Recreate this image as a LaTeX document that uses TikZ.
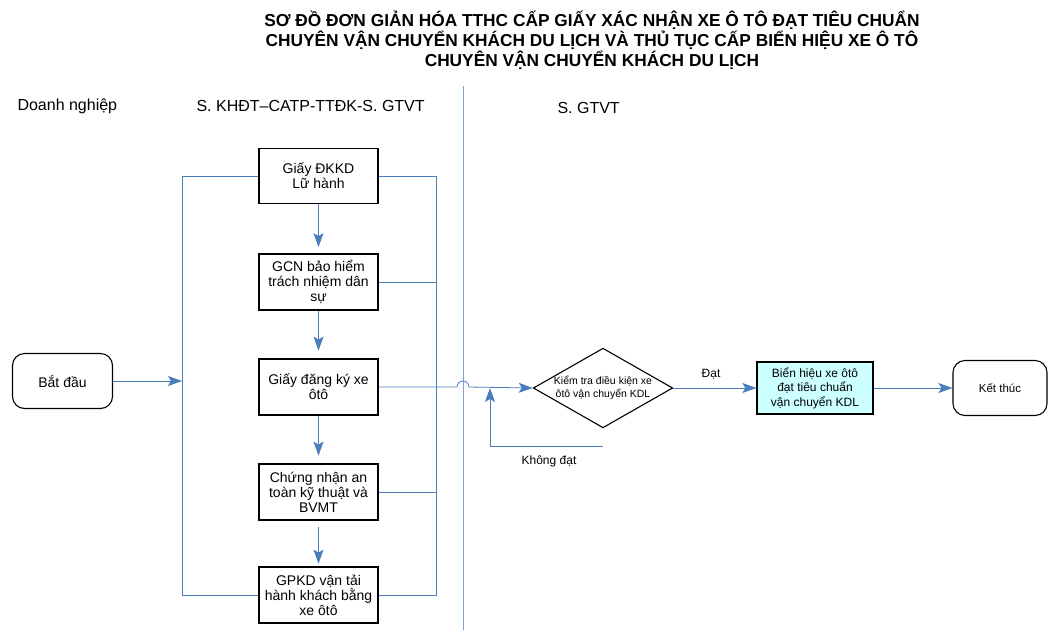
\documentclass[tikz,border=0pt]{standalone}
\usepackage{fontspec}
\setmainfont{Liberation Sans}
\usetikzlibrary{arrows.meta,shapes.geometric}
\definecolor{lblue}{HTML}{4A7EBB}
\definecolor{dblue}{HTML}{7FA3D6}
\definecolor{cyanfill}{HTML}{CCFFFF}
\tikzset{
  x=1pt,y=-1pt,
  conn/.style={draw=lblue,line width=0.8pt},
  tipa/.style={-{Stealth[length=14pt,width=10pt,inset=3pt]}},
  arr/.style={conn,tipa},
  procbox/.style={draw=black,line width=1.2pt,minimum width=119pt,minimum height=55pt,align=center,font=\fontsize{14}{15}\selectfont,inner sep=1pt},
  term/.style={draw=black,line width=1.1pt,rounded corners=12pt,minimum width=100pt,minimum height=55pt,align=center,font=\fontsize{14}{15}\selectfont},
  lane/.style={font=\fontsize{16}{18}\selectfont,anchor=west},
}
\begin{document}
\begin{tikzpicture}
\useasboundingbox (0,0) rectangle (1048,630);
% title
\node[align=center,font=\bfseries\fontsize{17.3}{20}\selectfont,inner sep=0pt] (title) at (592,40) {SƠ ĐỒ ĐƠN GIẢN HÓA TTHC CẤP GIẤY XÁC NHẬN XE Ô TÔ ĐẠT TIÊU CHUẨN\\CHUYÊN VẬN CHUYỂN KHÁCH DU LỊCH VÀ THỦ TỤC CẤP BIỂN HIỆU XE Ô TÔ\\CHUYÊN VẬN CHUYỂN KHÁCH DU LỊCH};
% lanes
\node[lane] (l1) at (14,106) {Doanh nghiệp};
\node[lane] (l2) at (193,106) {S. KHĐT–CATP-TTĐK-S. GTVT};
\node[lane] (l3) at (554,108) {S. GTVT};
\coordinate (dv1) at (463,86);
\coordinate (dv2) at (463,630);
\draw[draw=dblue,line width=0.8pt] (dv1) -- (dv2);
% boxes
\node[procbox] (b1) at (318.5,176) {Giấy ĐKKD\\Lữ hành};
\node[procbox,minimum height=56pt] (b2) at (318.5,282) {GCN bảo hiểm\\trách nhiệm dân\\sự};
\node[procbox,minimum height=56pt] (b3) at (318.5,387) {Giấy đăng ký xe\\ôtô};
\node[procbox,minimum height=56pt] (b4) at (318.5,492) {Chứng nhận an\\toàn kỹ thuật và\\BVMT};
\node[procbox,minimum height=56pt] (b5) at (318.5,595) {GPKD vận tải\\hành khách bằng\\xe ôtô};
\node[term] (start) at (62.5,381) {Bắt đầu};
\node[diamond,draw=black,line width=1.1pt,aspect=1.75,minimum width=137pt,minimum height=78pt,inner sep=0pt,align=center,font=\fontsize{10.5}{13}\selectfont] (dec) at (603,388) {Kiểm tra điều kiện xe\\ôtô vận chuyển KDL};
\node[procbox,fill=cyanfill,minimum width=116pt,minimum height=52pt,font=\fontsize{12}{14.5}\selectfont] (b6) at (815,388) {Biển hiệu xe ôtô\\đạt tiêu chuẩn\\vận chuyển KDL};
\node[term,minimum width=94pt,font=\fontsize{11.5}{14}\selectfont] (end) at (1000,388) {Kết thúc};
% vertical arrows
\draw[arr] (b1.south) -- ++(0,43);
\draw[arr] (b2.south) -- ++(0,40);
\draw[arr] (b3.south) -- ++(0,40);
\draw[arr] ([yshift=-6pt]b4.south) -- ++(0,37);
% left bus
\coordinate (lt) at (182,176);
\coordinate (lb) at (182,595);
\draw[conn] (b1.west) -- (lt) -- (lb) -- (b5.west);
\draw[arr] (start.east) -- (182,381);
% right bus
\coordinate (rt) at (436,176);
\coordinate (rb) at (436,595);
\draw[conn] (b1.east) -- (rt) -- (rb) -- (b5.east);
\draw[conn] (b2.east) -- (b2.east -| rt);
\draw[conn] (b4.east) -- (b4.east -| rt);
% b3 to decision with line jump
\coordinate (j1) at (457,387);
\coordinate (j2) at (469,387);
\draw[conn] (b3.east) -- (j1) arc[start angle=180,end angle=0,radius=6pt];
\draw[arr] (j2) -- (dec.west);
% feedback
\coordinate (f1) at (603,446);
\coordinate (f2) at (490,446);
\coordinate (f3) at (490,388);
\draw[conn,tipa] (f1) -- (f2) -- (f3);
\node[font=\fontsize{12}{14}\selectfont] (kd) at (549,461) {Không đạt};
% to b6 and end
\draw[arr] (dec.east) -- (b6.west);
\node[font=\fontsize{12}{14}\selectfont] (dat) at (711,374) {Đạt};
\draw[arr] (b6.east) -- (end.west);
\end{tikzpicture}
\end{document}
